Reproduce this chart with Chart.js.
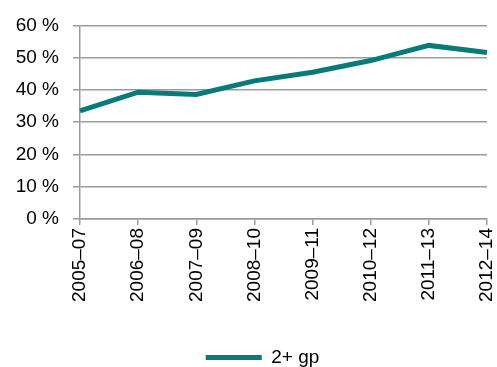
<!DOCTYPE html>
<html>
<head>
<meta charset="utf-8">
<script src="https://cdn.jsdelivr.net/npm/chart.js@4"></script>
<style>
  html, body { margin: 0; padding: 0; background: #fff; }
  #wrap { width: 497px; height: 367px; }
</style>
</head>
<body>
<div id="wrap"><canvas id="chartGp"></canvas></div>
<script>
// periodes et part 2+ gp (en %)
const periodes = ["2005–07", "2006–08", "2007–09", "2008–10", "2009–11", "2010–12", "2011–13", "2012–14"];
const valeurs2gp = [33.5, 39.3, 38.6, 42.8, 45.5, 49.1, 53.8, 51.6];
const serieNom = "2+ gp";
const yTicks = [0, 10, 20, 30, 40, 50, 60];

const teal = "#077b79";
const gris = "#9b9b9b";
const police = { family: "'Liberation Sans', Arial, sans-serif", size: 19 };
const basLegende = -10;

// decale la legende un peu a droite, comme dans l'original
const decalerLegende = {
  id: 'decalerLegende',
  afterLayout(chart) {
    chart.legend.left += 19;
    chart.legend.right += 19;
  }
};

new Chart(document.getElementById("chartGp"), {
  type: 'line',
  data: {
    labels: periodes,
    datasets: [{
      label: serieNom,
      data: valeurs2gp,
      borderColor: teal,
      backgroundColor: teal,
      borderWidth: 5,
      pointRadius: 0,
      tension: 0
    }]
  },
  options: {
    responsive: true,
    maintainAspectRatio: false,
    animation: false,
    layout: { padding: { top: 23, right: 10, left: 0, bottom: basLegende } },
    scales: {
      x: {
        grid: { drawOnChartArea: false, drawTicks: true, tickLength: 6, color: gris, lineWidth: 1.5 },
        border: { display: true, color: gris, width: 1.5 },
        ticks: { color: "#000", font: police, minRotation: 90, maxRotation: 90, padding: 3, autoSkip: false },
        afterFit: s => {
          s.height = 367 - 219 - s.chart.legend.height - basLegende;
          s.paddingLeft = 0;
          s.paddingRight = 0;
        }
      },
      y: {
        min: 0, max: 60,
        afterBuildTicks: s => { s.ticks = yTicks.map(v => ({ value: v })); },
        grid: { color: gris, lineWidth: 1.5, tickLength: 7 },
        border: { display: true, color: gris, width: 1.5 },
        ticks: { color: "#000", font: police, padding: 14, callback: v => v + " %" },
        afterFit: s => { s.width = 80; }
      }
    },
    plugins: {
      legend: {
        position: 'bottom',
        labels: {
          color: "#000",
          font: police,
          boxWidth: 56,
          boxHeight: 5,
          padding: 0,
          generateLabels: chart => Chart.defaults.plugins.legend.labels.generateLabels(chart)
            .map(l => ({ ...l, lineWidth: 0, fillStyle: teal }))
        }
      },
      tooltip: { enabled: false }
    }
  },
  plugins: [decalerLegende]
});
</script>
</body>
</html>
